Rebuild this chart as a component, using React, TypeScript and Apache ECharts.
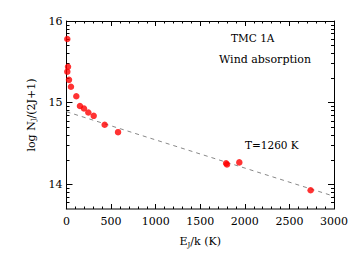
import React, { useEffect, useRef } from "react";
import * as echarts from "echarts";

const energyK = [9, 9, 17, 28, 50, 110, 151, 196, 245, 305, 428, 578, 1790, 1800, 1938, 2738];
const logN = [15.78, 15.38, 15.44, 15.28, 15.195, 15.08, 14.96, 14.93, 14.88, 14.84, 14.73, 14.64, 14.26, 14.245, 14.27, 13.93];
const fitX = [0, 3000];
const fitY = [14.89, 13.856];
const yMajorTicks = [14, 15, 16];
const yMinorTicks = [
  13.778, 13.845, 13.903, 13.954,
  14.301, 14.477, 14.602, 14.699, 14.778, 14.845, 14.903, 14.954,
  15.301, 15.477, 15.602, 15.699, 15.778, 15.845, 15.903, 15.954,
];

const FONT = "DejaVu Serif";
const AXIS_COLOR = "#000";

export default function App() {
  const ref = useRef<HTMLDivElement>(null);
  useEffect(() => {
    if (!ref.current) return;
    const chart = echarts.init(ref.current, undefined, { renderer: "svg" });
    const yBase = {
      type: "value" as const,
      min: 13.7,
      max: 16,
      splitLine: { show: false },
    };
    const sub = { fontFamily: FONT, fontSize: 7, verticalAlign: "bottom", padding: [6, 0, 0, 0] };
    chart.setOption({
      animation: false,
      backgroundColor: "#fff",
      grid: { left: 66.5, right: 20, top: 21, bottom: 43 },
      xAxis: [
        {
          type: "value",
          min: 0,
          max: 3000,
          interval: 500,
          position: "bottom",
          name: "E{sub|J}/k (K)",
          nameLocation: "middle",
          nameGap: 26,
          nameTextStyle: { fontFamily: FONT, fontSize: 11, color: "#000", rich: { sub } },
          axisLine: { show: true, lineStyle: { color: "#555", width: 1.5 } },
          axisTick: { show: true, inside: true, length: 5, lineStyle: { color: AXIS_COLOR } },
          minorTick: { show: true, splitNumber: 5, length: 2.5, lineStyle: { color: AXIS_COLOR } },
          axisLabel: {
            fontFamily: FONT,
            fontSize: 11,
            color: "#000",
            margin: 7,
            formatter: (v: number) => String(v),
          },
          splitLine: { show: false },
        },
        {
          type: "value",
          min: 0,
          max: 3000,
          interval: 500,
          position: "top",
          axisLine: { show: true, lineStyle: { color: AXIS_COLOR, width: 1 } },
          axisTick: { show: true, inside: true, length: 5, lineStyle: { color: AXIS_COLOR } },
          minorTick: { show: true, splitNumber: 5, length: 2.5, lineStyle: { color: AXIS_COLOR } },
          axisLabel: { show: false },
          splitLine: { show: false },
        },
      ],
      yAxis: [
        {
          ...yBase,
          position: "left",
          name: "log N{sub|J}/(2J+1)",
          nameLocation: "middle",
          nameGap: 24,
          nameRotate: 90,
          nameTextStyle: { fontFamily: FONT, fontSize: 11, color: "#000", rich: { sub } },
          axisLine: { show: true, lineStyle: { color: AXIS_COLOR, width: 1 } },
          axisTick: { show: true, inside: true, length: 6, customValues: yMajorTicks, lineStyle: { color: AXIS_COLOR } },
          axisLabel: { show: true, customValues: yMajorTicks, fontFamily: FONT, fontSize: 11, color: "#000", margin: 4 },
        },
        {
          ...yBase,
          position: "left",
          axisLine: { show: false },
          axisTick: { show: true, inside: true, length: 3, customValues: yMinorTicks, lineStyle: { color: AXIS_COLOR } },
          axisLabel: { show: false },
        },
        {
          ...yBase,
          position: "right",
          axisLine: { show: true, lineStyle: { color: AXIS_COLOR, width: 1 } },
          axisTick: { show: true, inside: true, length: 6, customValues: yMajorTicks, lineStyle: { color: AXIS_COLOR } },
          axisLabel: { show: false },
        },
        {
          ...yBase,
          position: "right",
          axisLine: { show: false },
          axisTick: { show: true, inside: true, length: 3, customValues: yMinorTicks, lineStyle: { color: AXIS_COLOR } },
          axisLabel: { show: false },
        },
      ],
      graphic: [
        { type: "text", left: 231, top: 32, style: { text: "TMC 1A", font: `10.5px '${FONT}'`, fill: "#000" } },
        { type: "text", left: 219, top: 54, style: { text: "Wind absorption", font: `11px '${FONT}'`, fill: "#000" } },
        { type: "text", left: 245, top: 139, style: { text: "T=1260 K", font: `10.5px '${FONT}'`, fill: "#000" } },
      ],
      series: [
        {
          type: "line",
          xAxisIndex: 0,
          yAxisIndex: 0,
          data: fitX.map((x, i) => [x, fitY[i]]),
          showSymbol: false,
          symbol: "none",
          lineStyle: { color: "#888", width: 1, type: [4, 4] },
          z: 1,
        },
        {
          type: "scatter",
          xAxisIndex: 0,
          yAxisIndex: 0,
          data: energyK.map((x, i) => [x, logN[i]]),
          symbol: "circle",
          symbolSize: 6.5,
          itemStyle: { color: "#ff0000" },
          z: 2,
        },
      ],
    });
    return () => chart.dispose();
  }, []);
  return <div ref={ref} style={{ width: 354, height: 253, position: "absolute", left: 0, top: 0 }} />;
}
